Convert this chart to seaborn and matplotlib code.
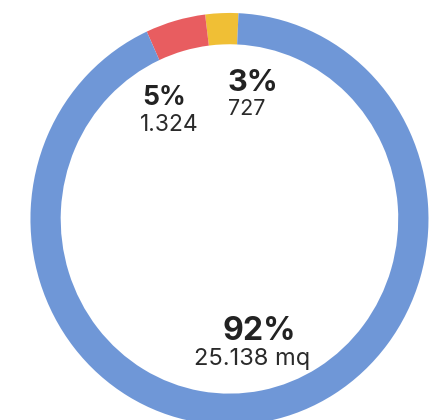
import matplotlib
matplotlib.use("Agg")
import matplotlib.pyplot as plt
import seaborn as sns

# -------------------------
# Data
# -------------------------
segments = ["Giallo", "Rosso", "Blu"]
values = [727, 1324, 25138]
pct_labels = ["3%", "5%", "92%"]
value_labels = ["727", "1.324", "25.138 mq"]
colors = ["#f0bf35", "#e85d60", "#6f97d7"]

# label layout (data coords, alignment, font size)
label_pos = [(-0.012, 0.66, "left", 22), (-0.44, 0.585, "left", 19), (0.148, -0.545, "center", 23)]
value_pos = [(-0.008, 0.535, "left", 15.5), (-0.45, 0.455, "left", 16.5), (0.115, -0.68, "center", 17)]

sns.set_theme(style="white")
plt.rcParams["font.family"] = ["Inter", "DejaVu Sans"]

fig = plt.figure(figsize=(4.46, 4.20), dpi=100)
ax = fig.add_axes([0, 0, 1, 1])

ax.pie(
    values,
    colors=colors,
    startangle=87.4,
    counterclock=True,
    wedgeprops=dict(width=0.152, edgecolor="none"),
)
ax.set_aspect("auto")
ax.set_xlim(-1.153, 1.088)
ax.set_ylim(-0.976, 1.063)
ax.axis("off")

for (x, y, ha, size), txt in zip(label_pos, pct_labels):
    ax.text(x, y, txt, ha=ha, va="center", fontsize=size,
            fontweight="bold", color="#222222")

for (x, y, ha, size), txt in zip(value_pos, value_labels):
    ax.text(x, y, txt, ha=ha, va="center", fontsize=size,
            color="#2a2a2a")

fig.savefig("out.png", dpi=100)
plt.close(fig)
